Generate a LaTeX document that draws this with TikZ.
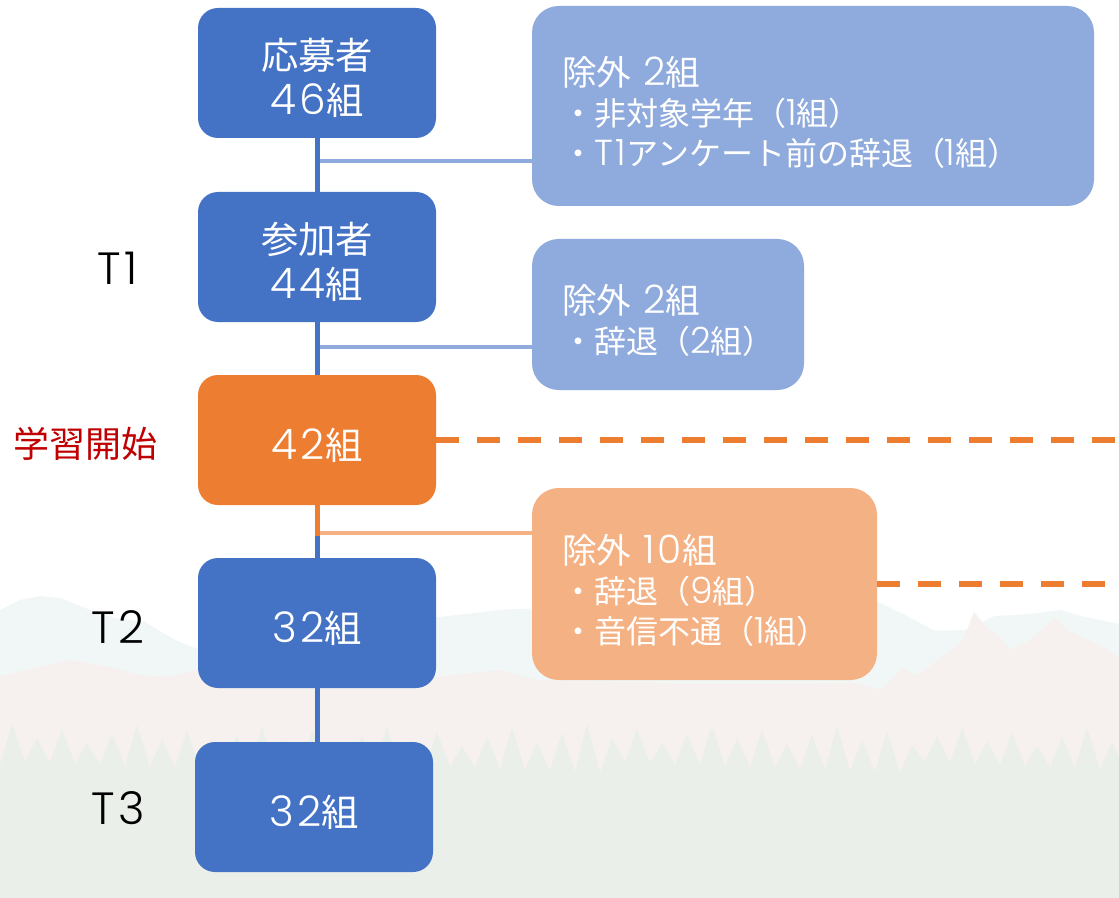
\documentclass[tikz,border=0pt]{standalone}
\usepackage{fontspec}
\setmainfont{Noto Sans CJK JP}
\newfontfamily\lat{Poppins Light}[Scale=1.13,LetterSpace=8]
\newcommand\mystrut{\rule{0pt}{31pt}}
\definecolor{dblue}{HTML}{4472C4}
\definecolor{dorange}{HTML}{ED7D31}
\definecolor{lblue}{HTML}{8FAADC}
\definecolor{lorange}{HTML}{F4B183}
\definecolor{startred}{HTML}{C00000}
\definecolor{bgcyan}{HTML}{F1F7F7}
\definecolor{bgpink}{HTML}{F6F1EE}
\definecolor{bgforest}{HTML}{EBEFE9}
\begin{document}
\begin{tikzpicture}[x=0.75pt,y=-0.75pt,
  mainbox/.style={rectangle,rounded corners=15pt,fill=dblue,text=white,
    minimum width=178.5pt,minimum height=97.5pt,align=center,inner sep=0pt,
    font=\fontsize{28}{34}\selectfont},
  startbox/.style={mainbox,fill=dorange},
  exbox/.style={rectangle,rounded corners=20pt,fill=lblue,text=white,
    inner xsep=22.5pt,inner ysep=0pt,align=left,
    font=\fontsize{24}{30}\selectfont},
  exobox/.style={exbox,fill=lorange},
  tlabel/.style={text=black,font=\fontsize{30}{34}\selectfont\lat,inner sep=0pt},
  mainline/.style={draw=dblue,line width=3.75pt},
  brblue/.style={draw=lblue,line width=3pt},
  brorange/.style={draw=lorange,line width=3pt},
  dashline/.style={draw=dorange,line width=4.5pt,dash pattern=on 17.25pt off 13.5pt}
]
\useasboundingbox (0,0) rectangle (1119,898);
% background
\fill[white] (0,0) rectangle (1119,898);
\fill[bgcyan] (0,610) -- (20,600) -- (40,596) -- (60,598) -- (85,608) -- (115,618)
  -- (145,622) -- (175,640) -- (205,652) -- (300,640) -- (380,625) -- (440,617)
  -- (500,610) -- (560,607) -- (640,612) -- (760,610) -- (874,600) -- (905,615)
  -- (935,631) -- (965,630) -- (995,616) -- (1030,614) -- (1060,610) -- (1085,617)
  -- (1119,624) -- (1119,898) -- (0,898) -- cycle;
\fill[bgpink] (0,676) -- (35,668) -- (70,660) -- (100,665) -- (140,675) -- (170,677)
  -- (205,668) -- (250,662) -- (320,668) -- (400,674) -- (436,677) -- (500,670)
  -- (536,680) -- (700,684) -- (856,683) -- (881,690) -- (903,668) -- (917,675)
  -- (938,660) -- (963,640) -- (974,612) -- (989,630) -- (996,633) -- (1010,650)
  -- (1030,640) -- (1056,617) -- (1067,630) -- (1096,643) -- (1119,657)
  -- (1119,898) -- (0,898) -- cycle;
\fill[bgforest] (0,765) \foreach \i in {0,...,45} {
    -- ({\i*25+12},{724+mod(\i*37,23)}) -- ({\i*25+25},{762+mod(\i*13,12)}) }
  -- (1119,898) -- (0,898) -- cycle;
% main boxes
\node[mainbox] (b1) at (317,73) {\mystrut 応募者\\{\lat 46}組};
\node[mainbox] (b2) at (317,257) {\mystrut 参加者\\{\lat 44}組};
\node[startbox] (b3) at (317,440) {\mystrut{\lat 42}組};
\node[mainbox] (b4) at (317,623) {\mystrut{\lat 32}組};
\node[mainbox] (b5) at (314,807) {\mystrut{\lat 32}組};
% exclusion boxes
\node[exbox,text width=376.5pt,minimum height=150pt] (e1) at (813,106)
  {{\fontsize{26}{30}\selectfont\mystrut 除外\hspace{9pt}{\lat 2}組}\\・非対象学年（{\lat 1}組）\\・{\lat T1}アンケート前の辞退（{\lat 1}組）};
\node[exbox,text width=159pt,minimum height=113.25pt] (e2) at (668,314.5)
  {{\fontsize{26}{30}\selectfont\mystrut 除外\hspace{9pt}{\lat 2}組}\\・辞退（{\lat 2}組）};
\node[exobox,text width=213.75pt,minimum height=144pt] (e3) at (704.5,584)
  {{\fontsize{26}{30}\selectfont\mystrut 除外\hspace{9pt}{\lat 10}組}\\・辞退（{\lat 9}組）\\・音信不通（{\lat 1}組）};
% labels
\node[tlabel] (t1) at (118,268) {T1};
\node[tlabel,text=startred,font=\fontsize{27}{30}\selectfont] (ls) at (85,444) {学習開始};
\node[tlabel] (t2) at (118,627) {T2};
\node[tlabel] (t3) at (118,808) {T3};
% connectors
\draw[mainline] (b1.south) -- (b2.north);
\draw[mainline] (b2.south) -- (b3.north);
\draw[mainline] (b3.south) -- (b4.north);
\draw[mainline] (b4.south) -- (b4.south |- b5.north);
\coordinate (o1) at (317,536);
\draw[draw=dorange,line width=3.75pt] (b3.south) -- (o1);
\coordinate (j1) at (319.5,161);
\coordinate (j2) at (319.5,347);
\coordinate (j3) at (319.5,533);
\draw[brblue] (j1) -- (j1 -| e1.west);
\draw[brblue] (j2) -- (j2 -| e2.west);
\draw[brorange] (j3) -- (j3 -| e3.west);
\coordinate (d1) at (1119,440);
\coordinate (d2) at (1119,584);
\draw[dashline] (b3.east) -- (d1);
\draw[dashline] (e3.east) -- (d2);
\end{tikzpicture}
\end{document}
